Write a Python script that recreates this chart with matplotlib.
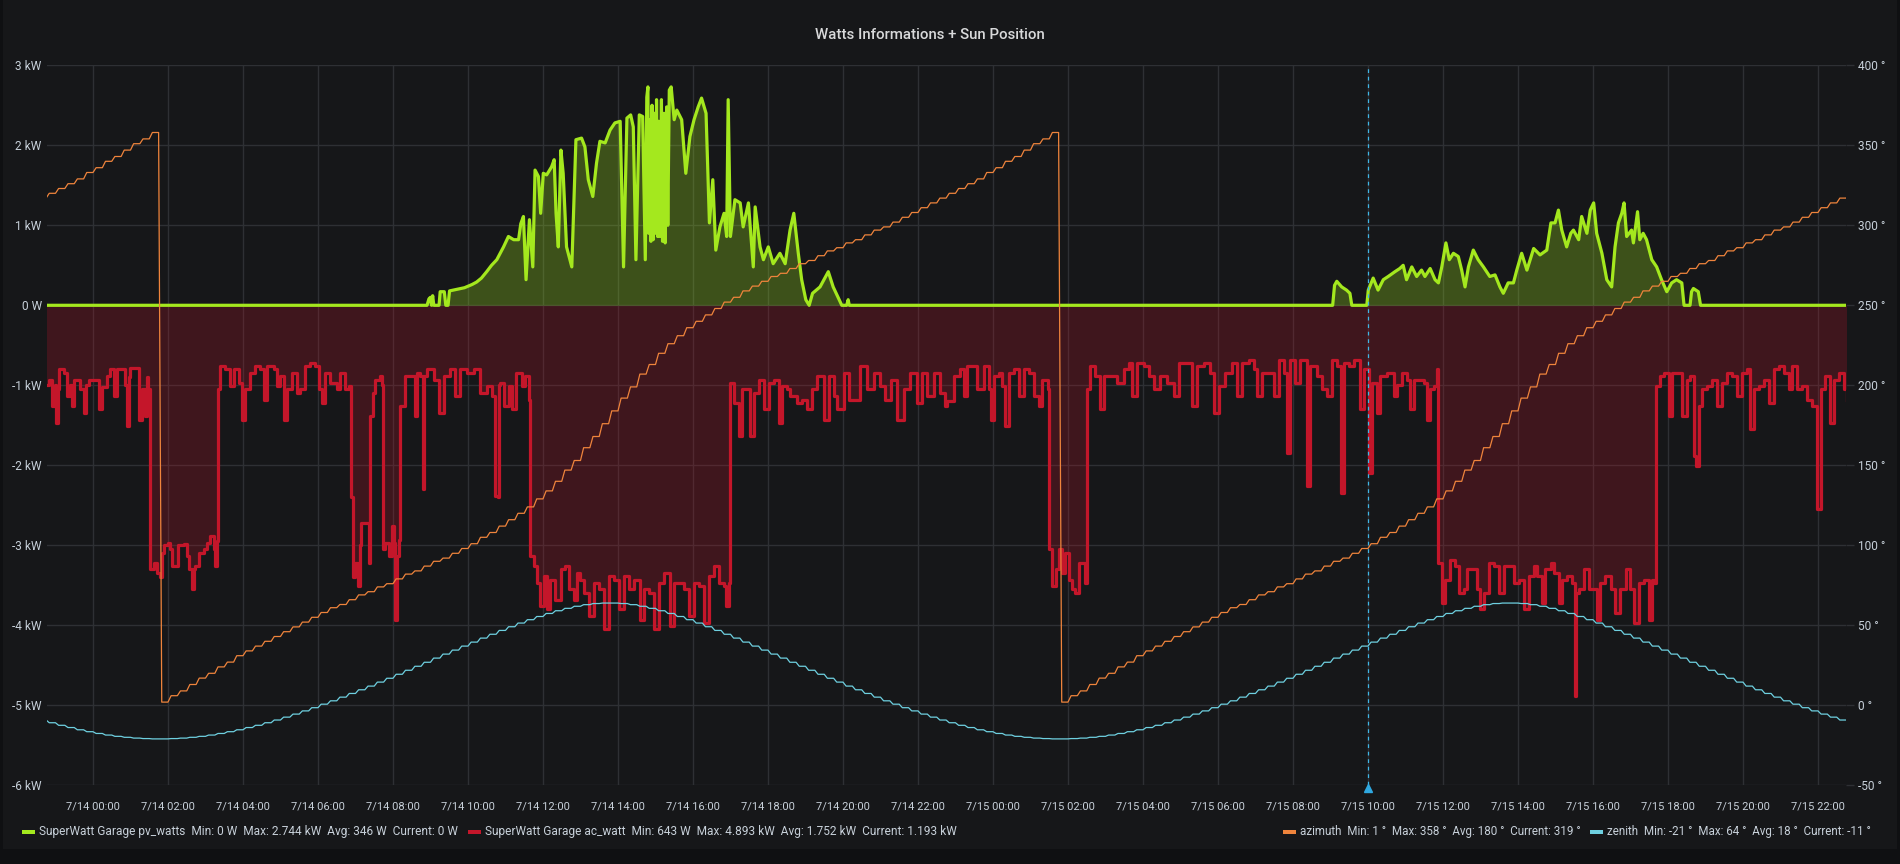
import numpy as np
import matplotlib
matplotlib.use("Agg")
import matplotlib.pyplot as plt
from matplotlib.patches import Rectangle
from matplotlib.transforms import blended_transform_factory

plt.rcParams['font.family'] = ['Roboto', 'DejaVu Sans']

W, H = 1900, 864

# ---------------------------------------------------------------- data
# time in hours from 7/14 00:00, power in kW

# SuperWatt Garage pv_watts (produced power)
pv_day1 = [(8.90, 0), (8.95, 0.08), (8.99, 0.1), (9.02, 0.0), (9.05, 0.12), (9.08, 0.0), (9.22, 0.0),
           (9.25, 0.17), (9.36, 0.17), (9.40, 0.0), (9.46, 0.0), (9.50, 0.18), (9.70, 0.2), (9.90, 0.22),
           (10.10, 0.26), (10.22, 0.29), (10.35, 0.34), (10.49, 0.42), (10.62, 0.5), (10.76, 0.57),
           (10.94, 0.73), (11.07, 0.86), (11.21, 0.82), (11.34, 0.82), (11.40, 1.02), (11.47, 1.11),
           (11.54, 0.32), (11.63, 1.07), (11.72, 0.48), (11.78, 1.69), (11.87, 1.61), (11.93, 1.15),
           (12.0, 1.65), (12.09, 1.63), (12.22, 1.73), (12.29, 1.82), (12.34, 1.15), (12.40, 0.73),
           (12.47, 1.94), (12.53, 1.65), (12.62, 0.73), (12.76, 0.48), (12.87, 2.07), (13.02, 2.09),
           (13.11, 1.98), (13.20, 1.57), (13.32, 1.36), (13.42, 1.78), (13.51, 2.05), (13.65, 2.03),
           (13.78, 2.19), (13.91, 2.28), (14.05, 2.3), (14.14, 0.48), (14.23, 2.34), (14.33, 2.38),
           (14.40, 2.23), (14.47, 0.57), (14.56, 2.38), (14.65, 2.36), (14.72, 0.57), (14.76, 2.6),
           (14.79, 2.73), (14.81, 0.9), (14.84, 2.32), (14.87, 0.8), (14.90, 2.5), (14.93, 0.82),
           (14.97, 2.4), (15.0, 0.9), (15.02, 2.57), (15.05, 0.86), (15.08, 2.3), (15.11, 0.86),
           (15.15, 2.57), (15.18, 0.8), (15.22, 2.4), (15.25, 0.78), (15.29, 2.48), (15.32, 1.0),
           (15.36, 2.69), (15.41, 2.73), (15.49, 2.32), (15.56, 2.44),
           (15.69, 2.32), (15.80, 1.65), (15.91, 2.11), (16.02, 2.32), (16.13, 2.48), (16.22, 2.59),
           (16.34, 2.4), (16.43, 1.03), (16.52, 1.57), (16.60, 0.69), (16.71, 0.98), (16.82, 1.15),
           (16.89, 0.86), (16.93, 2.57), (16.99, 0.86), (17.11, 1.32), (17.25, 1.28), (17.33, 0.98),
           (17.47, 1.28), (17.60, 0.48), (17.65, 1.23), (17.78, 0.73), (17.87, 0.57), (18.00, 0.73),
           (18.13, 0.52), (18.31, 0.65), (18.45, 0.52), (18.58, 0.94), (18.68, 1.15), (18.80, 0.65),
           (18.89, 0.32), (19.00, 0.07), (19.09, 0.0), (19.18, 0.15), (19.38, 0.23), (19.60, 0.42),
           (19.73, 0.23), (19.89, 0.07), (19.96, 0.0), (20.09, 0.0), (20.13, 0.07), (20.16, 0.0)]

pv_day2 = [(33.05, 0), (33.10, 0.25), (33.16, 0.3), (33.29, 0.23), (33.42, 0.19), (33.51, 0.15),
           (33.56, 0.0), (33.96, 0.0), (34.0, 0.19), (34.13, 0.34), (34.26, 0.19), (34.40, 0.32),
           (34.53, 0.36), (34.71, 0.42), (34.84, 0.46), (34.93, 0.5), (35.02, 0.32), (35.16, 0.48),
           (35.29, 0.36), (35.42, 0.44), (35.51, 0.36), (35.65, 0.46), (35.78, 0.32), (35.87, 0.28),
           (35.96, 0.48), (36.07, 0.78), (36.16, 0.57), (36.27, 0.65), (36.40, 0.61), (36.49, 0.44),
           (36.58, 0.23), (36.67, 0.48), (36.80, 0.69), (36.93, 0.57), (37.07, 0.48), (37.24, 0.36),
           (37.38, 0.38), (37.51, 0.23), (37.60, 0.15), (37.73, 0.28), (37.87, 0.28), (37.96, 0.44),
           (38.09, 0.65), (38.23, 0.44), (38.41, 0.71), (38.58, 0.63), (38.76, 0.69), (38.87, 1.03),
           (38.98, 1.03), (39.07, 1.19), (39.16, 0.94), (39.29, 0.73), (39.40, 0.9), (39.47, 0.94),
           (39.61, 0.82), (39.69, 1.11), (39.83, 0.9), (39.92, 1.19), (40.01, 1.28), (40.09, 0.9),
           (40.23, 0.65), (40.36, 0.32), (40.49, 0.23), (40.58, 0.73), (40.67, 1.03), (40.76, 1.15),
           (40.82, 1.28), (40.89, 0.86), (41.02, 0.94), (41.07, 0.78), (41.18, 1.17), (41.24, 0.82),
           (41.33, 0.9), (41.42, 0.82), (41.56, 0.57), (41.69, 0.48), (41.82, 0.32), (41.96, 0.17),
           (42.09, 0.28), (42.22, 0.32), (42.36, 0.28), (42.42, 0.0), (42.58, 0.0), (42.62, 0.17),
           (42.67, 0.21), (42.80, 0.17), (42.86, 0.0)]

# SuperWatt Garage ac_watt (consumed power, drawn below zero)
ac_day1 = [(-1.25, 1.0), (-1.19, 0.93), (-1.10, 1.26), (-1.03, 1.0), (-0.99, 1.47), (-0.95, 1.05),
           (-0.92, 0.8), (-0.79, 0.85), (-0.70, 1.14), (-0.62, 1.0), (-0.57, 1.26), (-0.52, 0.93),
           (-0.35, 1.05), (-0.26, 1.35), (-0.20, 1.0), (-0.12, 0.93), (0.01, 0.93), (0.14, 1.3),
           (0.23, 1.02), (0.36, 0.89), (0.45, 0.8), (0.54, 1.14), (0.63, 0.8), (0.76, 0.8), (0.85, 1.0),
           (0.90, 1.51), (0.95, 0.9), (0.99, 0.78), (1.12, 0.78), (1.21, 1.43), (1.30, 1.05), (1.39, 1.39),
           (1.43, 0.9), (1.47, 1.05),
           (1.50, 3.25), (1.52, 3.3), (1.62, 3.22), (1.70, 3.35), (1.79, 3.4), (1.84, 3.1), (1.88, 3.0),
           (2.0, 2.97), (2.05, 3.05), (2.10, 3.26), (2.19, 3.26), (2.25, 3.0), (2.41, 2.98), (2.50, 3.14),
           (2.56, 3.3), (2.63, 3.55), (2.68, 3.3), (2.72, 3.26), (2.81, 3.1), (2.94, 3.05), (3.03, 2.97),
           (3.12, 2.89), (3.21, 3.05), (3.25, 3.26), (3.29, 2.95),
           (3.33, 1.05), (3.39, 0.76), (3.5, 0.8), (3.56, 0.8), (3.65, 1.01), (3.74, 0.8), (3.88, 0.97),
           (3.96, 1.43), (4.05, 1.05), (4.19, 0.85), (4.32, 0.76), (4.45, 0.8), (4.54, 1.18), (4.63, 0.76),
           (4.81, 0.8), (4.90, 1.01), (4.99, 0.89), (5.08, 1.43), (5.17, 1.05), (5.30, 0.85), (5.43, 1.1),
           (5.52, 1.05), (5.65, 0.76), (5.79, 0.72), (5.92, 0.76), (6.01, 1.05), (6.10, 1.22), (6.19, 0.85),
           (6.32, 0.97), (6.50, 1.05), (6.59, 0.85), (6.72, 1.05), (6.81, 1.01),
           (6.86, 2.4), (6.92, 3.4), (6.99, 3.22), (7.05, 3.51), (7.10, 3.0), (7.14, 2.72), (7.30, 2.72),
           (7.35, 3.22), (7.39, 1.39), (7.45, 1.1), (7.52, 0.93), (7.65, 0.89), (7.69, 1.0), (7.72, 3.05),
           (7.79, 2.97), (7.88, 3.14), (7.96, 2.76), (8.01, 2.97), (8.05, 3.93), (8.10, 3.14), (8.14, 2.93),
           (8.19, 1.26), (8.32, 0.89), (8.45, 0.89), (8.59, 1.39), (8.63, 0.85), (8.72, 0.89), (8.79, 2.3),
           (8.83, 0.89), (8.90, 0.8), (9.08, 0.93), (9.21, 1.35), (9.34, 0.89), (9.52, 0.8), (9.65, 1.14),
           (9.79, 0.8), (9.96, 0.85), (10.14, 0.8), (10.32, 1.1), (10.50, 1.01), (10.63, 1.14),
           (10.72, 2.39), (10.78, 2.4), (10.81, 1.0),
           (10.85, 0.97), (10.94, 1.26), (11.08, 1.01), (11.17, 1.3), (11.26, 0.85), (11.34, 0.85),
           (11.43, 1.01), (11.52, 0.89), (11.61, 1.18),
           (11.65, 3.14), (11.74, 3.26), (11.83, 3.47), (11.92, 3.76), (12.01, 3.39), (12.10, 3.8),
           (12.19, 3.43), (12.32, 3.68), (12.46, 3.30), (12.59, 3.26), (12.68, 3.55), (12.81, 3.68),
           (12.90, 3.35), (12.99, 3.43), (13.08, 3.6), (13.21, 3.89), (13.34, 3.47), (13.48, 3.55),
           (13.61, 4.05), (13.74, 3.39), (13.88, 3.43), (14.01, 3.8), (14.14, 3.39), (14.28, 3.55),
           (14.41, 3.43), (14.59, 3.93), (14.68, 3.55), (14.81, 3.6), (14.95, 4.05), (15.08, 3.47),
           (15.21, 3.35), (15.39, 4.01), (15.48, 3.47), (15.61, 3.47), (15.74, 3.55), (15.88, 3.89),
           (16.01, 3.47), (16.14, 3.51), (16.28, 3.97), (16.41, 3.39), (16.54, 3.26), (16.68, 3.47),
           (16.81, 3.51), (16.88, 3.76), (16.94, 3.47),
           (16.99, 0.97), (17.08, 1.22), (17.21, 1.64), (17.30, 1.05), (17.39, 1.05), (17.52, 1.64),
           (17.61, 1.1), (17.74, 0.93), (17.88, 1.3), (18.01, 0.97), (18.14, 0.93), (18.28, 1.47),
           (18.37, 1.01), (18.50, 1.05), (18.59, 1.14), (18.77, 1.22), (18.90, 1.18), (19.03, 1.3),
           (19.17, 1.05), (19.30, 0.89), (19.43, 0.89), (19.48, 1.43), (19.61, 0.89), (19.74, 1.14),
           (19.83, 1.3), (20.01, 0.85), (20.14, 1.18), (20.28, 1.18), (20.45, 0.76), (20.63, 1.05),
           (20.81, 0.85), (20.99, 1.01), (21.12, 1.18), (21.26, 0.93), (21.43, 1.43), (21.61, 1.05),
           (21.79, 0.85), (21.96, 1.22), (22.10, 0.85), (22.23, 1.14), (22.41, 0.85), (22.59, 1.1),
           (22.72, 1.26)]

ac_day2 = [(22.77, 1.2), (22.94, 0.89), (23.12, 0.8), (23.21, 1.14), (23.30, 0.76), (23.43, 0.76),
           (23.57, 1.05), (23.74, 0.76), (23.88, 1.05), (23.94, 1.43), (24.01, 0.89), (24.14, 0.85),
           (24.23, 1.01), (24.32, 1.51), (24.41, 0.85), (24.54, 0.8), (24.68, 1.14), (24.81, 0.8),
           (24.94, 0.85), (25.08, 1.14), (25.21, 1.26), (25.30, 0.93), (25.39, 0.93), (25.45, 1.05),
           (25.48, 3.05), (25.57, 3.51), (25.66, 3.3), (25.74, 3.05), (25.83, 3.35), (25.92, 3.1),
           (26.01, 3.43), (26.10, 3.55), (26.19, 3.6), (26.28, 3.22), (26.37, 3.22), (26.45, 3.47),
           (26.50, 1.05), (26.59, 0.76), (26.72, 0.89), (26.85, 1.3), (26.94, 0.89), (27.12, 0.89),
           (27.30, 0.97), (27.48, 0.8), (27.61, 0.72), (27.70, 1.14), (27.83, 0.72), (28.01, 0.76),
           (28.14, 0.89), (28.28, 1.05), (28.45, 0.89), (28.63, 0.97), (28.81, 1.14), (28.94, 0.72),
           (29.12, 0.72), (29.30, 1.26), (29.43, 0.76), (29.61, 0.72), (29.79, 0.85), (29.88, 1.35),
           (30.01, 1.01), (30.19, 0.85), (30.37, 0.72), (30.50, 1.14), (30.63, 0.72), (30.81, 0.68),
           (30.95, 0.8), (31.03, 1.14), (31.17, 0.85), (31.34, 0.85), (31.48, 1.14), (31.61, 0.68),
           (31.74, 0.85), (31.83, 1.85), (31.92, 0.68), (32.05, 0.97), (32.19, 0.68), (32.37, 2.26),
           (32.45, 0.76), (32.63, 0.89), (32.77, 1.05), (32.90, 1.14), (33.03, 0.68), (33.17, 0.76),
           (33.26, 2.35), (33.34, 0.72), (33.48, 0.76), (33.61, 0.68), (33.79, 1.3), (33.88, 0.8),
           (34.01, 2.1), (34.10, 0.97), (34.23, 1.35), (34.32, 0.89), (34.50, 0.85), (34.68, 1.14),
           (34.77, 1.0), (34.90, 0.85), (35.03, 0.93), (35.12, 1.3), (35.21, 0.93), (35.35, 0.93),
           (35.48, 0.97), (35.57, 1.43), (35.65, 1.05), (35.74, 1.01), (35.83, 0.8),
           (35.87, 3.22), (35.97, 3.72), (36.05, 3.43), (36.19, 3.18), (36.32, 3.26), (36.41, 3.6),
           (36.54, 3.55), (36.63, 3.3), (36.77, 3.3), (36.90, 3.55), (36.99, 3.8), (37.08, 3.6),
           (37.21, 3.22), (37.35, 3.26), (37.48, 3.6), (37.61, 3.26), (37.75, 3.26), (37.88, 3.47),
           (38.01, 3.43), (38.14, 3.8), (38.28, 3.39), (38.41, 3.26), (38.50, 3.39), (38.63, 3.72),
           (38.72, 3.3), (38.86, 3.22), (38.94, 3.35), (39.08, 3.72), (39.17, 3.43), (39.30, 3.39),
           (39.43, 3.47), (39.50, 3.5), (39.52, 4.89), (39.55, 3.6), (39.61, 3.55), (39.74, 3.3),
           (39.88, 3.55), (40.01, 3.55), (40.10, 3.93), (40.19, 3.47), (40.32, 3.39), (40.46, 3.55),
           (40.59, 3.85), (40.72, 3.55), (40.86, 3.3), (40.99, 3.55), (41.08, 3.97), (41.21, 3.47),
           (41.34, 3.43), (41.48, 3.93), (41.56, 3.43), (41.63, 3.47),
           (41.68, 1.01), (41.79, 0.89), (41.88, 0.85), (42.01, 1.39), (42.10, 0.85), (42.23, 0.85),
           (42.37, 1.39), (42.50, 0.93), (42.59, 0.89), (42.68, 1.89), (42.74, 2.01), (42.81, 1.26),
           (42.90, 1.05), (43.03, 1.01), (43.17, 0.93), (43.30, 1.26), (43.43, 0.97), (43.57, 0.85),
           (43.70, 0.89), (43.83, 1.14), (43.97, 0.85), (44.10, 0.8), (44.19, 1.55), (44.28, 1.05),
           (44.41, 1.01), (44.54, 0.93), (44.68, 1.22), (44.81, 0.8), (44.94, 0.76), (45.08, 0.85),
           (45.21, 1.05), (45.30, 0.76), (45.43, 1.05), (45.57, 1.01), (45.70, 1.18), (45.83, 1.26),
           (45.97, 2.55), (46.06, 1.05), (46.19, 0.89), (46.32, 1.47), (46.41, 0.93), (46.54, 0.85),
           (46.68, 1.05), (46.77, 1.19)]

# sun position, one value every 15 min starting 7/14 01:49:30 (same curve both days)
az_day = [2, 6, 9, 13, 17, 20, 24, 27, 31, 34, 37, 40, 43, 46, 49, 52, 55, 58, 61, 63,
          66, 69, 71, 74, 76, 79, 82, 84, 87, 90, 92, 95, 98, 101, 105, 108, 112, 116, 120, 124,
          129, 134, 140, 147, 153, 161, 168, 176,
          184, 192, 199, 207, 213, 220, 226, 231, 236, 240, 244, 248, 252, 255, 259, 262, 265, 268,
          270, 273, 276, 278, 281, 284, 286, 289, 291, 294, 297, 299, 302, 305, 308, 311, 314, 317,
          320, 323, 326, 329, 333, 336, 340, 343, 347, 351, 354, 358]
zen_day = [-21.0, -20.8, -20.5, -20.0, -19.4, -18.6, -17.6, -16.5, -15.3, -13.9, -12.5, -10.9,
           -9.2, -7.4, -5.5, -3.5, -1.5, 0.7, 2.8, 5.1, 7.4, 9.7, 12.0, 14.5, 16.9, 19.4, 21.9, 24.4,
           26.9, 29.5, 32.0, 34.5, 37.0, 39.5, 42.0, 44.4, 46.8, 49.1, 51.4, 53.5, 55.5, 57.4, 59.1,
           60.6, 61.9, 62.9, 63.6, 63.9,
           63.9, 63.6, 62.9, 61.9, 60.6, 59.1, 57.4, 55.5, 53.5, 51.4, 49.1, 46.8, 44.4, 42.0, 39.5,
           37.0, 34.5, 32.0, 29.5, 26.9, 24.4, 21.9, 19.4, 16.9, 14.5, 12.0, 9.7, 7.4, 5.1, 2.8, 0.7,
           -1.5, -3.5, -5.5, -7.4, -9.2, -10.9, -12.5, -13.9, -15.3, -16.5, -17.6, -18.6, -19.4,
           -20.0, -20.5, -20.8, -21.0]
sun_first_step = 1.825
annotation_hour = 34.0

x_tick_hours = list(range(0, 47, 2))
x_tick_labels = ['7/14 00:00', '7/14 02:00', '7/14 04:00', '7/14 06:00', '7/14 08:00', '7/14 10:00',
                 '7/14 12:00', '7/14 14:00', '7/14 16:00', '7/14 18:00', '7/14 20:00', '7/14 22:00',
                 '7/15 00:00', '7/15 02:00', '7/15 04:00', '7/15 06:00', '7/15 08:00', '7/15 10:00',
                 '7/15 12:00', '7/15 14:00', '7/15 16:00', '7/15 18:00', '7/15 20:00', '7/15 22:00']
kw_ticks = [-6, -5, -4, -3, -2, -1, 0, 1, 2, 3]
kw_labels = ['-6 kW', '-5 kW', '-4 kW', '-3 kW', '-2 kW', '-1 kW', '0 W', '1 kW', '2 kW', '3 kW']
deg_ticks = [-50, 0, 50, 100, 150, 200, 250, 300, 350, 400]

# (swatch x in px, colour, text, font size)
legend_entries = [
    (22, '#a4e81e', 'SuperWatt Garage pv_watts  Min: 0 W  Max: 2.744 kW  Avg: 346 W  Current: 0 W', 8.6),
    (468, '#c4162a', 'SuperWatt Garage ac_watt  Min: 643 W  Max: 4.893 kW  Avg: 1.752 kW  Current: 1.193 kW', 8.6),
    (1283, '#ef843c', 'azimuth  Min: 1 °  Max: 358 °  Avg: 180 °  Current: 319 °', 8.4),
    (1590, '#6ed0e0', 'zenith  Min: -21 °  Max: 64 °  Avg: 18 °  Current: -11 °', 8.4),
]

# ---------------------------------------------------------------- style
PANEL = '#161719'
GRID = '#2e3034'
TXT = '#c7d0d9'
GREEN = '#a4e81e'
RED = '#c4162a'
ORANGE = '#ef843c'
CYAN = '#6ed0e0'

x_min, x_max = -1.2267, 46.731

fig = plt.figure(figsize=(19, 8.64), dpi=100, facecolor='#0f1012')
fig.add_artist(Rectangle((3 / W, 1 - 849 / H), (W - 6) / W, 849 / H,
                         transform=fig.transFigure, color=PANEL, lw=0, zorder=0))

ax = fig.add_axes([47.3 / W, 1 - 785.3 / H, (1845.7 - 47.3) / W, 720 / H])
ax.set_facecolor(PANEL)

pv = [(x_min - 0.1, 0)] + pv_day1 + pv_day2 + [(x_max + 0.1, 0)]
pv_t = np.array([p[0] for p in pv])
pv_v = np.array([p[1] for p in pv])
ac = ac_day1 + ac_day2
ac_t = np.array([p[0] for p in ac])
ac_v = -np.array([p[1] for p in ac])

ax.fill_between(pv_t, pv_v, 0, color=GREEN, alpha=0.28, lw=0, zorder=1)
ax.fill_between(ac_t, ac_v, 0, step='post', color=RED, alpha=0.24, lw=0, zorder=1)
ax.plot(ac_t, ac_v, color=RED, lw=2.3, zorder=3, drawstyle='steps-post')
ax.plot(pv_t, pv_v, color=GREEN, lw=2.3, zorder=3, solid_joinstyle='round')

ax.set_xlim(x_min, x_max)
ax.set_ylim(-6, 3)
ax.set_xticks(x_tick_hours)
ax.set_xticklabels(x_tick_labels)
ax.set_yticks(kw_ticks)
ax.set_yticklabels(kw_labels)
ax.grid(True, color=GRID, lw=1, zorder=0)
ax.set_axisbelow(True)
for s in ax.spines.values():
    s.set_visible(False)
ax.tick_params(axis='x', length=0, pad=12, colors=TXT, labelsize=8)
ax.tick_params(axis='y', length=0, pad=4, colors=TXT, labelsize=8.6)

# annotation marker at 7/15 10:00
ax.axvline(annotation_hour, color='#3fb6e6', lw=0.9, ls=(0, (3, 3)), zorder=4)
trans = blended_transform_factory(ax.transData, ax.transAxes)
ax.plot([annotation_hour], [-0.004], marker='^', ms=6, color='#2fa8e0', transform=trans,
        clip_on=False, zorder=5)

# right axis: sun position
ax2 = ax.twinx()
sun_t, sun_az, sun_zen = [], [], []
for d in (-24, 0, 24):
    for i in range(len(az_day)):
        t0 = sun_first_step + 0.25 * i + d
        sun_t += [t0, t0 + 1 / 6]
        sun_az += [az_day[i], az_day[i]]
        sun_zen += [zen_day[i], zen_day[i]]
ax2.plot(sun_t, sun_az, color=ORANGE, lw=0.9, zorder=3)
ax2.plot(sun_t, sun_zen, color=CYAN, lw=0.9, zorder=3)
ax2.set_xlim(x_min, x_max)
ax2.set_ylim(-50, 400)
ax2.set_yticks(deg_ticks)
ax2.set_yticklabels([f'{v} °' for v in deg_ticks])
for s in ax2.spines.values():
    s.set_visible(False)
ax2.tick_params(axis='y', length=6, width=1, color=GRID, pad=3, colors=TXT, labelsize=8.6)
ax2.tick_params(axis='y', color=GRID)

fig.text(930 / W, 1 - 35 / H, 'Watts Informations + Sun Position', ha='center', va='center',
         color='#d8d9da', fontsize=10.8, fontweight='medium')

# legend rows
legend_y = 832
for x0, col, label, fs in legend_entries:
    fig.add_artist(Rectangle((x0 / W, 1 - (legend_y + 2) / H), 13 / W, 4 / H,
                             transform=fig.transFigure, color=col, lw=0))
    fig.text((x0 + 17) / W, 1 - legend_y / H, label, ha='left', va='center',
             color=TXT, fontsize=fs)

fig.savefig('out.png', dpi=100, facecolor=fig.get_facecolor())
